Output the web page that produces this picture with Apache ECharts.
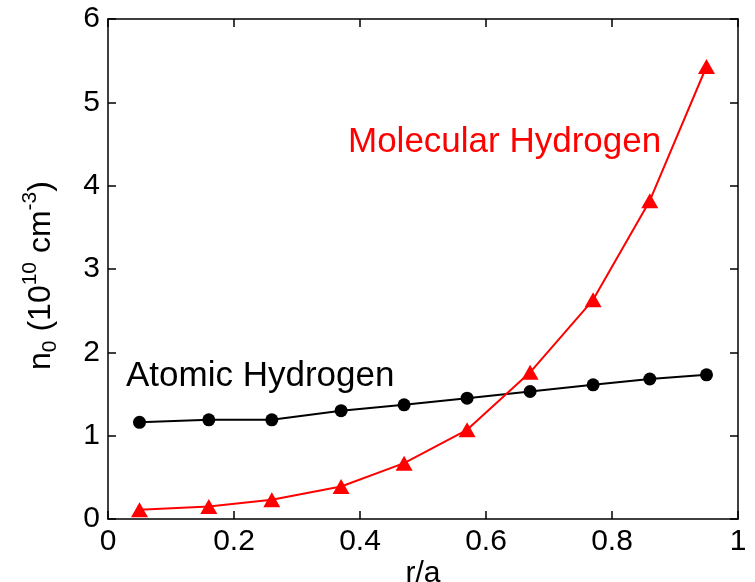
<!DOCTYPE html>
<html>
<head>
<meta charset="utf-8">
<script src="https://cdn.jsdelivr.net/npm/echarts@6/dist/echarts.min.js"></script>
<style>html,body{margin:0;padding:0;background:#fff;overflow:hidden;}#c{width:755px;height:582px;}</style>
</head>
<body>
<div id="c"></div>
<script>
const rPos = [0.05, 0.16, 0.26, 0.37, 0.47, 0.57, 0.67, 0.77, 0.86, 0.95];
const atomic = [1.16, 1.19, 1.19, 1.30, 1.37, 1.45, 1.53, 1.61, 1.68, 1.73];
const molecular = [0.11, 0.15, 0.23, 0.39, 0.67, 1.07, 1.76, 2.63, 3.82, 5.43];
const xTicks = [0, 0.2, 0.4, 0.6, 0.8, 1];
const yTicks = [0, 1, 2, 3, 4, 5, 6];

const font = 'Liberation Sans, Arial, sans-serif';
const chart = echarts.init(document.getElementById('c'));
const axisLine = {show: true, onZero: false, lineStyle: {color: '#000', width: 1.5}};
const tick = {show: true, inside: true, length: 8, lineStyle: {color: '#000', width: 1.5}};
chart.setOption({
  animation: false,
  backgroundColor: '#fff',
  grid: {left: 108, right: 17, top: 19, bottom: 63, containLabel: false, outerBoundsMode: 'none'},
  xAxis: [{
    type: 'value', min: 0, max: 1, interval: 0.2,
    axisLine: axisLine, axisTick: tick, splitLine: {show: false},
    axisLabel: {color: '#000', fontSize: 30, fontFamily: font, margin: 8,
      formatter: v => xTicks.includes(Math.round(v*10)/10) ? String(Math.round(v*10)/10) : ''},
    name: 'r/a', nameLocation: 'middle', nameGap: 40, nameMoveOverlap: false,
    nameTextStyle: {color: '#000', fontSize: 30, fontFamily: font, verticalAlign: 'top', lineHeight: 30}
  }, {
    type: 'value', position: 'top', min: 0, max: 1, interval: 0.2,
    axisLine: axisLine, axisTick: tick, axisLabel: {show: false}, splitLine: {show: false}
  }],
  yAxis: [{
    type: 'value', min: 0, max: 6, interval: 1,
    axisLine: axisLine, axisTick: tick, splitLine: {show: false},
    axisLabel: {color: '#000', fontSize: 30, fontFamily: font, margin: 8,
      formatter: v => yTicks.includes(v) ? String(v) : ''},
    name: '{b|n}{sub|0}{b| (10}{sup|10}{b| cm}{sup|-3}{b|)}',
    nameLocation: 'middle', nameRotate: 90, nameGap: 44, nameMoveOverlap: false,
    nameTextStyle: {
      color: '#000', fontFamily: font, padding: [0, 13, 0, 0],
      rich: {
        b: {fontSize: 32, fontFamily: font, color: '#000', lineHeight: 46, verticalAlign: 'middle'},
        sub: {fontSize: 21, fontFamily: font, color: '#000', lineHeight: 46, verticalAlign: 'bottom', padding: [0,0,3,0]},
        sup: {fontSize: 21, fontFamily: font, color: '#000', lineHeight: 46, verticalAlign: 'top', padding: [2,0,0,0]}
      }
    }
  }, {
    type: 'value', position: 'right', min: 0, max: 6, interval: 1,
    axisLine: axisLine, axisTick: tick, axisLabel: {show: false}, splitLine: {show: false}
  }],
  series: [{
    type: 'line', name: 'Atomic Hydrogen',
    data: rPos.map((x, i) => [x, atomic[i]]),
    symbol: 'circle', symbolSize: 13,
    lineStyle: {color: '#000', width: 2},
    itemStyle: {color: '#000'}
  }, {
    type: 'line', name: 'Molecular Hydrogen',
    data: rPos.map((x, i) => [x, molecular[i]]),
    symbol: 'triangle', symbolSize: [17, 15],
    lineStyle: {color: '#ff0000', width: 2},
    itemStyle: {color: '#ff0000'}
  }],
  graphic: [{
    type: 'text', x: 348, y: 142,
    style: {text: 'Molecular Hydrogen', fill: '#ff0000', fontSize: 35, fontFamily: font, align: 'left', verticalAlign: 'middle'}
  }, {
    type: 'text', x: 126, y: 376,
    style: {text: 'Atomic Hydrogen', fill: '#000', fontSize: 35, fontFamily: font, align: 'left', verticalAlign: 'middle'}
  }]
});
</script>
</body>
</html>
